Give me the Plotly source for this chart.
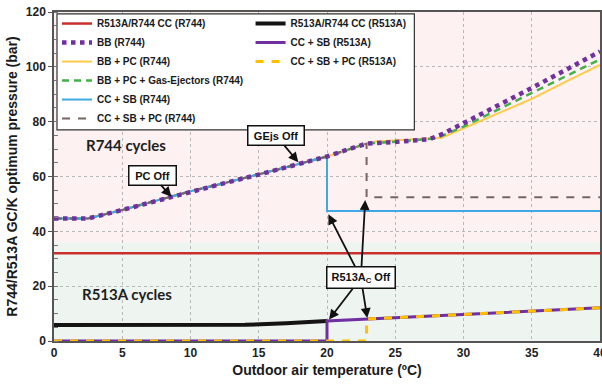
import plotly.graph_objects as go

# --- R744 cycles: shared optimum-pressure curve up to the switch points (bar) ---
t_base = [0, 2.5, 5, 7.5, 10, 12.5, 15, 17.5, 20]
p_base = [44.7, 44.7, 47.8, 51.2, 54.6, 57.6, 60.7, 64.0, 67.3]

# tails after 20 ºC for the boosted (BB) cycles
t_bb_tail = [21.5, 22.9, 25, 27.5, 28.5, 30, 32.5, 35, 37.5, 40]
p_bb_tail = [69.8, 72.0, 72.6, 73.6, 75.6, 79.4, 85.8, 92.3, 98.9, 105.6]

t_pc_tail = [21.5, 22.9, 23.6, 25, 28.4, 30, 32.5, 35, 37.5, 40]
p_pc_tail = [69.8, 72.0, 72.8, 73.2, 74.1, 77.6, 83.0, 88.3, 94.6, 100.7]

t_ge_tail = [21.5, 22.9, 25, 28, 30, 32.5, 35, 37.5, 40]
p_ge_tail = [69.8, 72.0, 72.7, 73.9, 78.2, 84.3, 90.4, 96.5, 102.7]

# CC + SB (R744): R513A cycle switched off at 20 ºC
t_ccsb_tail = [20, 40]
p_ccsb_tail = [47.4, 47.4]

# CC + SB + PC (R744): switched off at 22.9 ºC
t_ccsbpc_tail = [21.5, 22.9, 22.9, 40]
p_ccsbpc_tail = [69.8, 72.0, 52.4, 52.4]

# --- R513A cycles ---
t_cc = [0, 40]
p_cc_r744 = [32.0, 32.0]

t_cc_r513 = [0, 5, 10, 14, 17, 20]
p_cc_r513 = [5.8, 5.8, 5.8, 5.9, 6.5, 7.3]

t_ccsb_r513 = [0, 20, 20, 40]
p_ccsb_r513 = [0, 0, 7.3, 12.1]

t_ccsbpc_r513 = [0, 22.9, 22.9, 40]
p_ccsbpc_r513 = [0, 0, 8.0, 12.1]

SANS = "Liberation Sans, Arial, sans-serif"

fig = go.Figure()

def add(x, y, name, color, width, dash="solid", legend="legend", rank=1):
    fig.add_trace(go.Scatter(
        x=x, y=y, mode="lines", name=name,
        line=dict(color=color, width=width, dash=dash),
        legend=legend, legendrank=rank, hoverinfo="skip",
    ))

# drawing order (bottom to top)
add(t_cc, p_cc_r744, "R513A/R744 CC (R744)", "#c9302c", 2.5, rank=1)
add(t_cc_r513, p_cc_r513, "R513A/R744 CC (R513A)", "#141414", 4, legend="legend2", rank=1)
add(t_ccsb_r513, p_ccsb_r513, "CC + SB (R513A)", "#7030a0", 3, legend="legend2", rank=2)
add(t_ccsbpc_r513, p_ccsbpc_r513, "CC + SB + PC (R513A)", "#ffc000", 3,
    dash="8px,8px", legend="legend2", rank=3)
add(t_base + t_pc_tail, p_base + p_pc_tail, "BB + PC (R744)", "#ffca4a", 2, rank=3)
add(t_base + t_ge_tail, p_base + p_ge_tail, "BB + PC + Gas-Ejectors (R744)", "#44b04a", 2.5,
    dash="7px,5px", rank=4)
add(t_base + t_ccsb_tail, p_base + p_ccsb_tail, "CC + SB (R744)", "#3fa9e6", 2, rank=5)
add(t_base + t_ccsbpc_tail, p_base + p_ccsbpc_tail, "CC + SB + PC (R744)", "#7a6464", 2,
    dash="8px,8px", rank=6)
add(t_base + t_bb_tail, p_base + p_bb_tail, "BB (R744)", "#7030a0", 4.5,
    dash="4.5px,4.5px", rank=2)

# shaded regions for the two refrigerant loops
fig.add_shape(type="rect", xref="x", yref="y", x0=0, x1=40, y0=36, y1=120,
              fillcolor="#fdf1f1", line_width=0, layer="below")
fig.add_shape(type="rect", xref="x", yref="y", x0=0, x1=40, y0=0, y1=36,
              fillcolor="#eef5f0", line_width=0, layer="below")
# frame around both legend columns (above the grid, below the curves)
fig.add_shape(type="rect", xref="x", yref="y", x0=0.22, x1=26.4, y0=77.0, y1=119.3,
              line=dict(color="#333333", width=1.2), fillcolor="white", layer="between")

box = dict(bgcolor="white", bordercolor="#111111", borderwidth=1.5, borderpad=3,
           font=dict(family=SANS, size=11, color="#111111", weight="bold"),
           showarrow=True, arrowhead=2, arrowsize=1.1, arrowwidth=1.8, arrowcolor="#111111",
           axref="x", ayref="y", xref="x", yref="y")

fig.add_annotation(text="PC Off", x=8.6, y=52.6, ax=7.2, ay=60.4, width=40, **box)
fig.add_annotation(text="GEjs Off", x=17.9, y=65.2, ax=16.27, ay=74.9, width=49, **box)
for tx, ty in [(20.1, 46.2), (22.8, 51.4), (20.15, 7.8), (22.95, 8.4)]:
    fig.add_annotation(text="R513A<sub>C</sub> Off", x=tx, y=ty, ax=22.48, ay=23.0,
                       width=61, **box)

cycle_font = dict(family="Lato, Open Sans, sans-serif", size=15, color="#1e1e1e",
                  weight="bold")
fig.add_annotation(text="R744 cycles", x=5.26, y=71.5, xref="x", yref="y",
                   showarrow=False, font=cycle_font)
fig.add_annotation(text="R513A cycles", x=5.33, y=17.0, xref="x", yref="y",
                   showarrow=False, font=cycle_font)

legend_font = dict(family=SANS, size=10, color="#1a1a1a", weight="bold")
axis_font = dict(family=SANS, size=12, color="#222222", weight="bold")

fig.update_layout(
    width=602, height=385,
    margin=dict(l=54, r=2, t=12, b=44),
    paper_bgcolor="white", plot_bgcolor="white",
    showlegend=True,
    legend=dict(x=0.0055, y=1.009, xanchor="left", yanchor="top",
                bgcolor="rgba(0,0,0,0)", borderwidth=0, font=legend_font,
                traceorder="normal", tracegroupgap=0),
    legend2=dict(x=0.36, y=1.009, xanchor="left", yanchor="top",
                 bgcolor="rgba(0,0,0,0)", borderwidth=0, font=legend_font,
                 traceorder="normal", tracegroupgap=0),
    xaxis=dict(range=[0, 40], dtick=5, tick0=0, showgrid=True, automargin=False,
               gridcolor="#b8b8b8", griddash="dot", gridwidth=1,
               showline=True, linecolor="#555555", linewidth=1.5, mirror=True,
               ticks="", tickfont=axis_font, ticklabeloverflow="allow",
               zeroline=False,
               title=dict(text="Outdoor air temperature (ºC)",
                          font=dict(family=SANS, size=14, color="#1a1a1a", weight="bold"),
                          standoff=6)),
    yaxis=dict(range=[0, 120], dtick=20, tick0=0, showgrid=True, automargin=False,
               gridcolor="#b8b8b8", griddash="dot", gridwidth=1,
               showline=True, linecolor="#555555", linewidth=1.5, mirror=True,
               ticks="outside", ticklen=4, tickcolor="#555555",
               minor=dict(dtick=5, ticks="inside", ticklen=4, tickcolor="#777777",
                          showgrid=False),
               tickfont=axis_font, zeroline=False,
               title=dict(text="R744/R513A GC/K optimum pressure (bar)",
                          font=dict(family=SANS, size=14, color="#1a1a1a", weight="bold"),
                          standoff=5)),
)

fig.write_html("out.html")
